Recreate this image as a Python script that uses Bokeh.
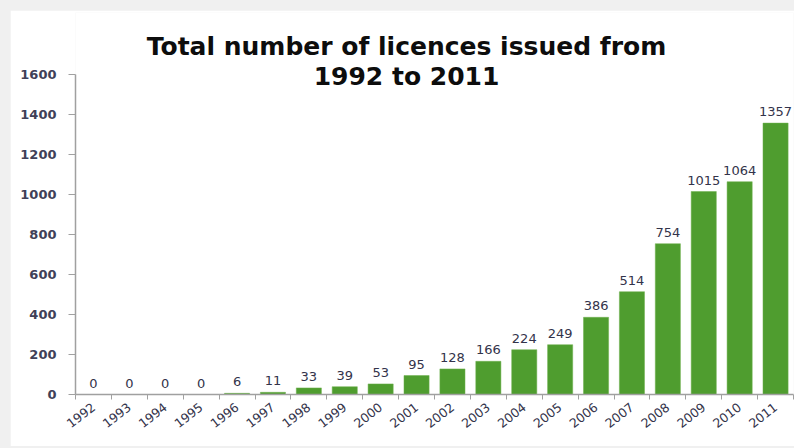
from bokeh.plotting import figure
from bokeh.layouts import column
from bokeh.models import FixedTicker, Range1d, ColumnDataSource, Label
from bokeh.core.properties import value
from bokeh.embed import file_html
from bokeh.resources import INLINE

years = ["1992", "1993", "1994", "1995", "1996", "1997", "1998", "1999", "2000", "2001",
         "2002", "2003", "2004", "2005", "2006", "2007", "2008", "2009", "2010", "2011"]
licences = [0, 0, 0, 0, 6, 11, 33, 39, 53, 95,
            128, 166, 224, 249, 386, 514, 754, 1015, 1064, 1357]
y_ticks = [0, 200, 400, 600, 800, 1000, 1200, 1400, 1600]
title_lines = ["Total number of licences issued from", "1992 to 2011"]

xs = list(range(len(years)))
src = ColumnDataSource(dict(x=xs, top=licences, label=[str(v) for v in licences]))

p = figure(width=784, height=436, output_backend="svg", toolbar_location=None, title_location=None,
           x_range=Range1d(-0.5, len(years) - 0.5), y_range=Range1d(0, 1910),
           min_border_left=65, min_border_right=1, min_border_top=2, min_border_bottom=52)
p.outline_line_color = None
p.background_fill_color = "white"
p.border_fill_color = "white"
p.grid.visible = False

p.vbar(x="x", top="top", width=0.7, source=src, fill_color="#4f9d2f", line_color="#6fb04f", line_width=0.5)
p.text(x="x", y="top", text="label", source=src, text_align="center", text_baseline="bottom",
       y_offset=-7, text_font=value("DejaVu Sans"), text_font_size="13px", text_color="#33334a")

xa = p.xaxis[0]
xa.ticker = FixedTicker(ticks=xs, minor_ticks=[i - 0.5 for i in range(len(years) + 1)])
xa.major_label_overrides = {i: y for i, y in enumerate(years)}
xa.major_label_orientation = 0.66
xa.major_tick_line_color = None
xa.minor_tick_line_color = "#a0a0a0"
xa.minor_tick_in = 0
xa.minor_tick_out = 5
xa.axis_line_color = "#a0a0a0"
xa.axis_line_width = 1.5
xa.major_label_text_font = "DejaVu Sans"
xa.major_label_text_font_size = "12.5px"
xa.major_label_text_color = "#33334a"
xa.major_label_standoff = 5

ya = p.yaxis[0]
ya.ticker = FixedTicker(ticks=y_ticks)
ya.bounds = (0, 1600)
ya.minor_tick_line_color = None
ya.major_tick_in = 0
ya.major_tick_out = 7
ya.major_tick_line_color = "#a0a0a0"
ya.axis_line_color = "#a0a0a0"
ya.axis_line_width = 1.5
ya.major_label_text_font = "DejaVu Sans"
ya.major_label_text_font_style = "bold"
ya.major_label_text_font_size = "13px"
ya.major_label_text_color = "#404058"
ya.major_label_standoff = 12

for i, t in enumerate(title_lines):
    p.add_layout(Label(x=331, y=348 - 30 * i, x_units="screen", y_units="screen", text=t,
                       text_align="center", text_baseline="alphabetic",
                       text_font="DejaVu Sans", text_font_style="bold",
                       text_font_size="25px", text_color="#0d0d0d"))

layout = column(p, styles={"background-color": "#f0f0f0", "padding": "10px 0px 2px 10px",
                           "border-bottom": "1px solid #8a8a8a"})

open("out.html", "w").write(file_html(layout, INLINE))
